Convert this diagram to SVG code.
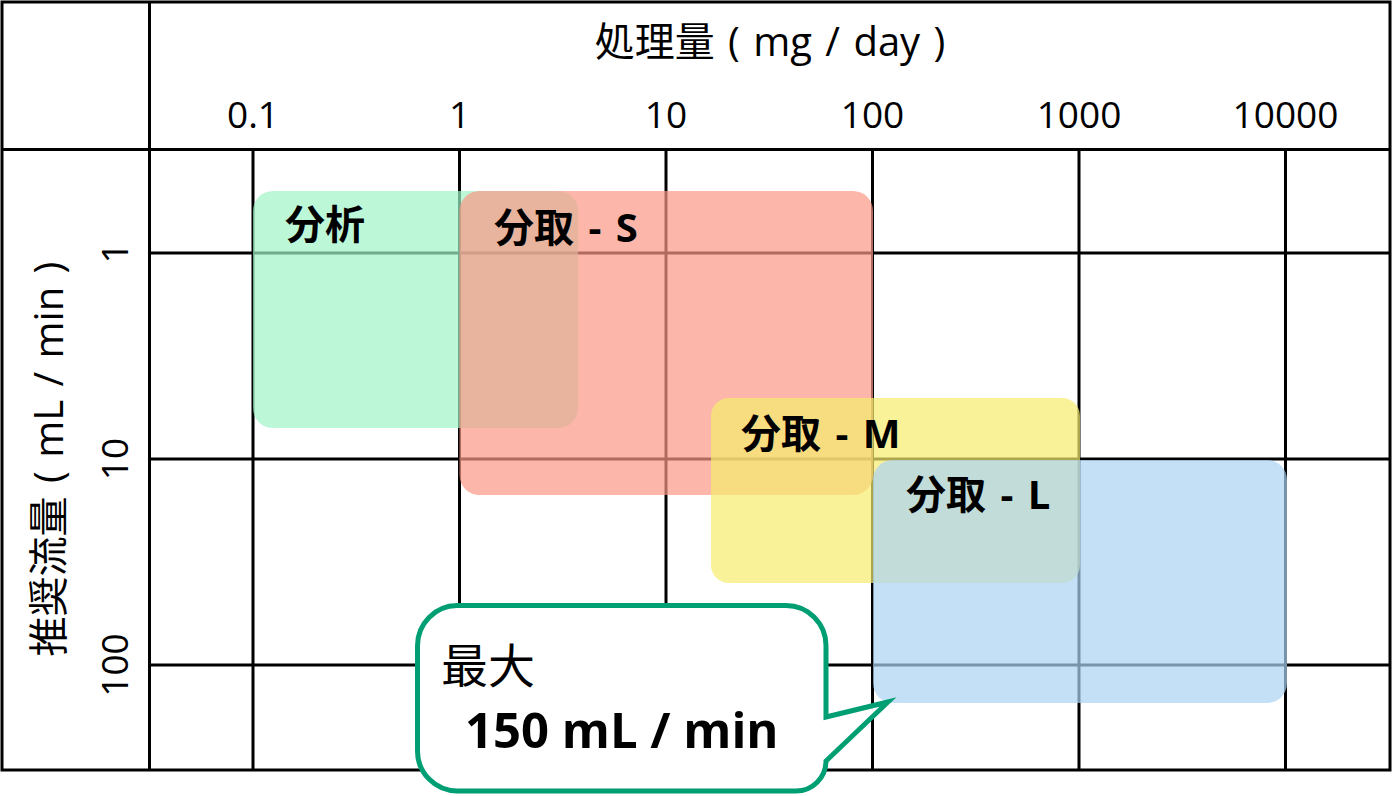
<svg xmlns="http://www.w3.org/2000/svg" width="1393" height="796" viewBox="0 0 1393 796">
  <style>
    .grid line, .grid rect { stroke: #000; stroke-width: 3; fill: none; }
    .t { font-family: 'Open Sans', 'Noto Sans CJK JP', sans-serif; fill: #000; }
    .tick { font-size: 37px; }
    .axis { font-size: 40px; word-spacing: 3px; }
    .lbl { font-size: 40px; font-weight: bold; word-spacing: 4px; }
    .box { opacity: 0.7; }
  </style>
  <rect x="0" y="0" width="1393" height="796" fill="#fff"/>
  <g id="grid" class="grid">
    <rect x="2" y="2" width="1388" height="768"/>
    <line x1="149.5" y1="2" x2="149.5" y2="770"/>
    <line x1="2" y1="149.5" x2="1390" y2="149.5"/>
    <line x1="253" y1="149.5" x2="253" y2="770"/>
    <line x1="459.5" y1="149.5" x2="459.5" y2="770"/>
    <line x1="666" y1="149.5" x2="666" y2="770"/>
    <line x1="872.5" y1="149.5" x2="872.5" y2="770"/>
    <line x1="1079" y1="149.5" x2="1079" y2="770"/>
    <line x1="1285.5" y1="149.5" x2="1285.5" y2="770"/>
    <line x1="149.5" y1="253" x2="1390" y2="253"/>
    <line x1="149.5" y1="459" x2="1390" y2="459"/>
    <line x1="149.5" y1="665" x2="1390" y2="665"/>
  </g>
  <g id="axis-labels" class="t">
    <text class="axis" x="770" y="56" text-anchor="middle">処理量 ( mg / day )</text>
    <text class="tick" x="253" y="128" text-anchor="middle">0.1</text>
    <text class="tick" x="459.5" y="128" text-anchor="middle">1</text>
    <text class="tick" x="666" y="128" text-anchor="middle">10</text>
    <text class="tick" x="872.5" y="128" text-anchor="middle">100</text>
    <text class="tick" x="1079" y="128" text-anchor="middle">1000</text>
    <text class="tick" x="1285.5" y="128" text-anchor="middle">10000</text>
    <text class="tick" transform="translate(128,253) rotate(-90)" text-anchor="middle">1</text>
    <text class="tick" transform="translate(128,459) rotate(-90)" text-anchor="middle">10</text>
    <text class="tick" transform="translate(128,665) rotate(-90)" text-anchor="middle">100</text>
    <text class="axis" transform="translate(63,459) rotate(-90)" text-anchor="middle">推奨流量 ( mL / min )</text>
  </g>
  <g id="node-analysis">
    <rect class="box" x="253" y="191" width="325" height="237" rx="20" fill="#9ff4c7"/>
  </g>
  <g id="node-prep-s">
    <rect class="box" x="459.5" y="191" width="413.5" height="304" rx="20" fill="#fb9786"/>
  </g>
  <g id="node-prep-m">
    <rect class="box" x="711" y="398" width="369" height="185" rx="18" fill="#f7ec6e"/>
  </g>
  <g id="node-prep-l">
    <rect class="box" x="873" y="460" width="414" height="243" rx="20" fill="#aad3f3"/>
  </g>
  <g id="node-labels" class="t lbl">
    <text x="285" y="239">分析</text>
    <text x="494" y="242">分取 - S</text>
    <text x="741" y="448">分取 - M</text>
    <text x="906" y="509">分取 - L</text>
  </g>
  <g id="connectors"></g>
  <g id="callout">
    <path d="M 457,605.5 H 786 A 40 40 0 0 1 826,645.5 V 717 L 888,702 L 826,761 A 30 30 0 0 1 796,791 H 457 A 40 40 0 0 1 417.5,751 V 645.5 A 40 40 0 0 1 457,605.5 Z" fill="#fff" stroke="#009e73" stroke-width="5" stroke-linejoin="miter"/>
    <text class="t" x="441" y="683" font-size="47">最大</text>
    <text class="t" x="465" y="748" font-size="49" font-weight="bold">150 mL / min</text>
  </g>
</svg>
